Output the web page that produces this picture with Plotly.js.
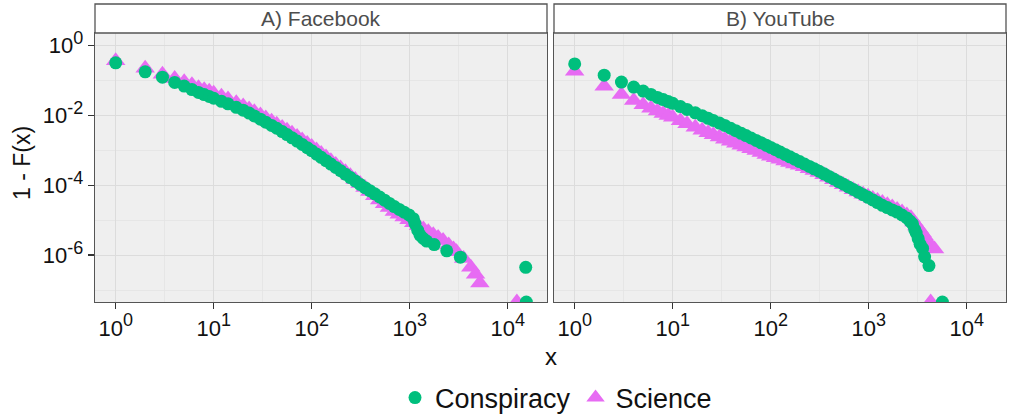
<!DOCTYPE html>
<html>
<head>
<meta charset="utf-8">
<script src="https://cdn.plot.ly/plotly-3.0.1.min.js"></script>
<style>html,body{margin:0;padding:0;background:#fff;}#chart{width:1014px;height:415px;}</style>
</head>
<body>
<div id="chart"></div>
<script>
// ---------- data ----------
const panelTitles = ['A) Facebook', 'B) YouTube'];
const seriesNames = ['Conspiracy', 'Science'];
const xTickVals = [1, 10, 100, 1000, 10000];
const xTickExp = ['0', '1', '2', '3', '4'];
const yTickVals = [1, 1e-2, 1e-4, 1e-6];
const yTickExp = ['0', '-2', '-4', '-6'];

// Facebook – Conspiracy  (1 - F(x); value 0 = last observation, drawn at panel edge)
const fbConspX = [1,2,3,4,5,6,7,8,9,10,12,14,17,20,23,26,30,34,39,44,50,56,63,71,80,90,100,112,125,140,157,176,197,221,248,278,312,350,392,440,494,554,621,697,782,877,984,1089,1132,1208,1274,1377,1489,1778,2388,3289,15280,15490];
const fbConspY = [0.315,0.175,0.123,0.0867,0.0682,0.0541,0.0451,0.0390,0.0344,0.0306,0.0251,0.0212,0.0169,0.0140,0.0115,0.00955,7.71e-3,6.35e-3,5.13e-3,4.25e-3,3.41e-3,2.79e-3,2.26e-3,1.82e-3,1.46e-3,1.18e-3,9.68e-4,7.76e-4,6.25e-4,5.02e-4,4.01e-4,3.21e-4,2.58e-4,2.06e-4,1.65e-4,1.32e-4,1.05e-4,8.49e-5,6.95e-5,5.66e-5,4.58e-5,3.71e-5,3.01e-5,2.44e-5,2.02e-5,1.69e-5,1.41e-5,1.10e-5,7.94e-6,5.13e-6,3.72e-6,2.98e-6,2.51e-6,2.00e-6,1.32e-6,8.71e-7,4.47e-7,0];

// Facebook – Science
const fbSciX = [1,2,3,4,5,6,7,8,9,10,12,14,17,20,23,26,30,34,39,44,50,56,63,71,80,90,100,112,125,140,157,176,197,221,248,278,312,350,392,440,494,554,621,697,782,877,984,1100,1230,1380,1550,1740,1950,2190,2500,2800,3000,3550,4200,4700,5200,12400];
const fbSciY = [0.36,0.222,0.150,0.113,0.091,0.0745,0.0610,0.0540,0.0482,0.0428,0.0348,0.0290,0.0226,0.0184,0.0150,0.0126,0.0101,8.30e-3,6.70e-3,5.55e-3,4.48e-3,3.71e-3,3.04e-3,2.46e-3,1.96e-3,1.56e-3,1.28e-3,1.02e-3,8.10e-4,6.40e-4,5.00e-4,3.93e-4,3.10e-4,2.43e-4,1.87e-4,1.44e-4,1.11e-4,8.51e-5,6.53e-5,4.98e-5,3.79e-5,2.93e-5,2.28e-5,1.76e-5,1.46e-5,1.22e-5,1.03e-5,8.41e-6,6.84e-6,5.58e-6,4.62e-6,3.83e-6,3.16e-6,2.59e-6,1.94e-6,1.48e-6,1.25e-6,7.94e-7,4.47e-7,2.82e-7,1.58e-7,0];

// YouTube – Conspiracy
const ytConspX = [1,2,3,4,5,6,7,8,9,10,12,14,17,20,23,26,30,34,39,44,50,56,63,71,80,90,100,112,125,140,157,176,197,221,248,278,312,350,392,440,494,554,621,697,782,877,984,1100,1230,1380,1550,1740,1950,2190,2450,2650,2800,2950,3050,3200,3350,3550,3720,4120,5650];
const ytConspY = [0.294,0.140,0.0887,0.0640,0.0492,0.0395,0.0324,0.0280,0.0246,0.0219,0.0177,0.0147,0.0117,9.66e-3,8.18e-3,7.08e-3,5.98e-3,5.11e-3,4.25e-3,3.61e-3,3.04e-3,2.62e-3,2.23e-3,1.91e-3,1.62e-3,1.39e-3,1.20e-3,1.03e-3,8.83e-4,7.57e-4,6.46e-4,5.51e-4,4.72e-4,4.03e-4,3.44e-4,2.93e-4,2.50e-4,2.11e-4,1.78e-4,1.50e-4,1.26e-4,1.06e-4,8.91e-5,7.50e-5,6.31e-5,5.31e-5,4.47e-5,3.78e-5,3.17e-5,2.65e-5,2.28e-5,1.96e-5,1.70e-5,1.40e-5,1.15e-5,9.20e-6,7.76e-6,5.37e-6,4.27e-6,2.95e-6,2.04e-6,1.55e-6,8.91e-7,5.01e-7,0];

// YouTube – Science
const ytSciX = [1,2,3,4,5,6,7,8,9,10,12,14,17,20,23,26,30,34,39,44,50,56,63,71,80,90,100,112,125,140,157,176,197,221,248,278,312,350,392,440,494,554,621,697,782,877,984,1100,1230,1380,1550,1740,1950,2190,2450,2700,2900,3100,3300,3500,3700,3950,4250,4700,4290];
const ytSciY = [0.18,0.067,0.039,0.0263,0.0200,0.0158,0.0132,0.0113,9.84e-3,8.71e-3,6.92e-3,5.69e-3,4.53e-3,3.73e-3,3.18e-3,2.78e-3,2.37e-3,2.07e-3,1.79e-3,1.58e-3,1.38e-3,1.24e-3,1.10e-3,9.73e-4,8.57e-4,7.57e-4,6.76e-4,6.08e-4,5.48e-4,4.93e-4,4.46e-4,4.06e-4,3.70e-4,3.35e-4,2.96e-4,2.62e-4,2.32e-4,1.98e-4,1.68e-4,1.43e-4,1.20e-4,1.02e-4,8.71e-5,7.41e-5,6.40e-5,5.52e-5,4.78e-5,4.17e-5,3.64e-5,3.17e-5,2.75e-5,2.36e-5,2.01e-5,1.71e-5,1.39e-5,1.16e-5,8.83e-6,6.82e-6,5.37e-6,4.35e-6,3.44e-6,2.53e-6,1.82e-6,1.48e-6,0];

// ---------- drawing ----------
const W = 1014, H = 415;
const X_RANGE = [-0.211, 4.401];
const Y_RANGE = [-7.343, 0.353];
const FLOOR = Math.pow(10, Y_RANGE[0]);          // zero values drawn at the panel edge (like -Inf)
const atEdge = arr => arr.map(v => v > 0 ? v : FLOOR);
const powLabel = e => '10<sup><span style="font-size:18px">' + e + '</span></sup>';

const GREEN = '#00BF7D', PINK = '#E76BF3';
const FONT = 'Liberation Sans, Arial, Helvetica, sans-serif';

function sciTrace(x, y, xa, ya, show) {
  return {x: x, y: atEdge(y), xaxis: xa, yaxis: ya, type: 'scatter', mode: 'markers',
    name: seriesNames[1], legendgroup: 'sci', showlegend: show, legendrank: 2, cliponaxis: true,
    marker: {symbol: 'triangle-up', size: 17, color: PINK, line: {width: 0}}, hoverinfo: 'x+y'};
}
function conTrace(x, y, xa, ya, show) {
  return {x: x, y: atEdge(y), xaxis: xa, yaxis: ya, type: 'scatter', mode: 'markers',
    name: seriesNames[0], legendgroup: 'con', showlegend: show, legendrank: 1, cliponaxis: true,
    marker: {symbol: 'circle', size: 13, color: GREEN, line: {width: 0}}, hoverinfo: 'x+y'};
}

const traces = [
  sciTrace(fbSciX, fbSciY, 'x', 'y', true),
  sciTrace(ytSciX, ytSciY, 'x2', 'y2', false),
  conTrace(fbConspX, fbConspY, 'x', 'y', true),
  conTrace(ytConspX, ytConspY, 'x2', 'y2', false)
];

const px = v => v / W;
const py = v => (H - v) / H;

const axisBase = {
  showline: true, mirror: true, linecolor: '#555', linewidth: 1.3,
  ticks: 'outside', ticklen: 6, tickwidth: 1.2, tickcolor: '#333',
  showgrid: true, gridcolor: '#DCDCDC', gridwidth: 1.1, zeroline: false,
  tickfont: {family: FONT, size: 22, color: '#111'}
};
const xCommon = Object.assign({}, axisBase, {
  type: 'log', range: X_RANGE, tickmode: 'array', tickvals: xTickVals, ticktext: xTickExp.map(powLabel),
  minor: {tickmode: 'array', tickvals: [3.1623, 31.623, 316.23, 3162.3], showgrid: true, gridcolor: '#E3E3E3', gridwidth: 0.7, ticks: ''}
});
const yCommon = Object.assign({}, axisBase, {
  type: 'log', range: Y_RANGE, tickmode: 'array', tickvals: yTickVals, ticktext: yTickExp.map(powLabel),
  minor: {tickmode: 'array', tickvals: [1e-1, 1e-3, 1e-5, 1e-7], showgrid: true, gridcolor: '#E3E3E3', gridwidth: 0.7, ticks: ''}
});

const yDom = [py(302), py(33)];
const layout = {
  width: W, height: H,
  margin: {l: 0, r: 0, t: 0, b: 0, autoexpand: false},
  paper_bgcolor: '#FFFFFF', plot_bgcolor: '#EFEFEF',
  font: {family: FONT, color: '#111'},
  showlegend: true,
  xaxis: Object.assign({}, xCommon, {domain: [px(95), px(547)], anchor: 'y'}),
  xaxis2: Object.assign({}, xCommon, {domain: [px(554), px(1006)], anchor: 'y2'}),
  yaxis: Object.assign({}, yCommon, {domain: yDom, anchor: 'x'}),
  yaxis2: Object.assign({}, yCommon, {domain: yDom, anchor: 'x2', matches: 'y', showticklabels: false, ticks: ''}),
  legend: {orientation: 'h', x: px(556), xanchor: 'center', y: py(398), yanchor: 'middle',
    font: {family: FONT, size: 27, color: '#111'}, traceorder: 'normal', itemwidth: 30, bgcolor: 'rgba(0,0,0,0)'},
  shapes: [
    {type: 'rect', xref: 'paper', yref: 'paper', x0: px(95), x1: px(547), y0: py(33), y1: py(4),
      fillcolor: '#FFFFFF', line: {color: '#555', width: 1.3}},
    {type: 'rect', xref: 'paper', yref: 'paper', x0: px(554), x1: px(1006), y0: py(33), y1: py(4),
      fillcolor: '#FFFFFF', line: {color: '#555', width: 1.3}}
  ],
  annotations: [
    {text: panelTitles[0], xref: 'paper', yref: 'paper', x: px(321), y: py(19), showarrow: false,
      xanchor: 'center', yanchor: 'middle', font: {family: FONT, size: 21, color: '#4D4D4D'}},
    {text: panelTitles[1], xref: 'paper', yref: 'paper', x: px(780), y: py(19), showarrow: false,
      xanchor: 'center', yanchor: 'middle', font: {family: FONT, size: 21, color: '#4D4D4D'}},
    {text: 'x', xref: 'paper', yref: 'paper', x: px(551), y: py(356), showarrow: false,
      xanchor: 'center', yanchor: 'middle', font: {family: FONT, size: 24, color: '#111'}},
    {text: '1 - F(x)', xref: 'paper', yref: 'paper', x: px(22), y: py(163), showarrow: false, textangle: -90,
      xanchor: 'center', yanchor: 'middle', font: {family: FONT, size: 23, color: '#111'}}
  ]
};

Plotly.newPlot('chart', traces, layout, {displayModeBar: false, staticPlot: true});
</script>
</body>
</html>
